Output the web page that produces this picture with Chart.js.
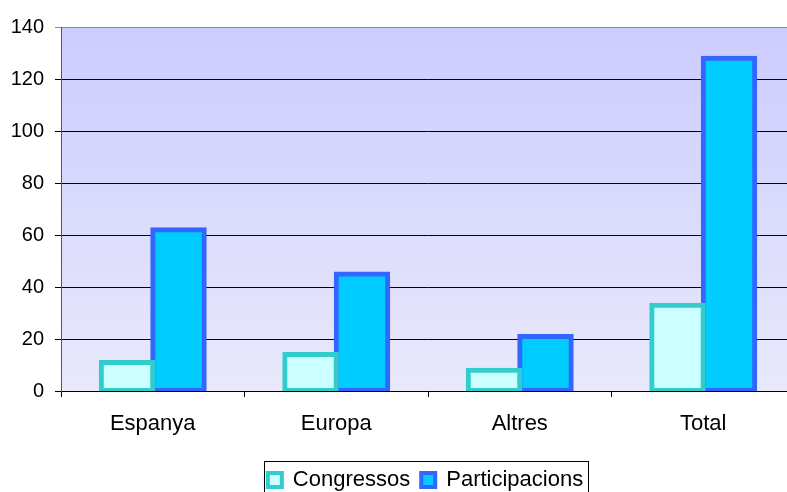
<!DOCTYPE html>
<html><head><meta charset="utf-8">
<script src="https://cdn.jsdelivr.net/npm/chart.js@4/dist/chart.umd.min.js"></script>
<style>html,body{margin:0;padding:0;background:#fff;overflow:hidden}#wrap{width:787px;height:492px;overflow:hidden}</style>
</head><body><div id="wrap"><canvas id="c" width="795" height="492"></canvas></div>
<script>
const categories = ["Espanya", "Europa", "Altres", "Total"];
const congressos = [11, 14, 8, 33];
const participacions = [62, 45, 21, 128];
const seriesNames = ["Congressos", "Participacions"];
const yTicks = [0, 20, 40, 60, 80, 100, 120, 140];

const FONT = "'Liberation Sans', Arial, sans-serif";

const bgPlugin = {
  id: 'bg',
  afterLayout(chart) {
    const lg = chart.legend;
    if (lg) { lg.left += 28; lg.right += 28; }
  },
  beforeDraw(chart) {
    const {ctx, chartArea: a} = chart;
    const g = ctx.createLinearGradient(0, a.top, 0, a.bottom);
    g.addColorStop(0, '#ccccff');
    g.addColorStop(1, '#e9e9fb');
    ctx.save();
    ctx.fillStyle = g;
    ctx.fillRect(a.left, a.top, a.right - a.left, a.bottom - a.top);
    ctx.restore();
  },
  afterDraw(chart) {
    const lg = chart.legend;
    if (!lg || !lg.legendHitBoxes || !lg.legendHitBoxes.length) return;
    const hb = lg.legendHitBoxes;
    const x0 = hb[0].left - 4;
    const x1 = hb[hb.length - 1].left + hb[hb.length - 1].width + 5;
    const ctx = chart.ctx;
    ctx.save();
    ctx.strokeStyle = '#000';
    ctx.lineWidth = 1;
    ctx.strokeRect(Math.round(x0) + 0.5, 461.5, Math.round(x1 - x0), 40);
    ctx.restore();
  }
};

new Chart(document.getElementById('c'), {
  type: 'bar',
  data: {
    labels: categories,
    datasets: [
      { label: seriesNames[0], data: congressos, backgroundColor: '#ccffff', borderColor: '#33cccc', borderWidth: 5, borderSkipped: false, inflateAmount: 2.5 },
      { label: seriesNames[1], data: participacions, backgroundColor: '#00ccff', borderColor: '#3366ff', borderWidth: 5, borderSkipped: false, inflateAmount: 2.5 }
    ]
  },
  options: {
    responsive: false,
    animation: false,
    layout: { padding: { top: 27, left: 0, right: 0, bottom: -9 } },
    datasets: { bar: { categoryPercentage: 0.561, barPercentage: 1.0 } },
    plugins: {
      tooltip: { enabled: false },
      legend: {
        position: 'bottom',
        labels: {
          font: { family: FONT, size: 22 },
          color: '#000',
          boxWidth: 14,
          boxHeight: 14,
          padding: 11,
          generateLabels(chart) {
            return chart.data.datasets.map((d, i) => ({
              text: d.label,
              fillStyle: d.backgroundColor,
              strokeStyle: d.borderColor,
              lineWidth: 4,
              hidden: false,
              datasetIndex: i
            }));
          }
        }
      }
    },
    scales: {
      x: {
        grid: { drawOnChartArea: false, drawTicks: true, tickLength: 6, color: '#000', offset: true },
        border: { display: true, color: '#000', width: 1 },
        ticks: { font: { family: FONT, size: 22 }, color: '#000', padding: 14 },
        afterFit(s) { s.height = 67; }
      },
      y: {
        min: 0, max: 140,
        afterBuildTicks(s) { s.ticks = yTicks.map(v => ({ value: v })); },
        grid: { color: (c) => c.tick && c.tick.value === 140 ? '#888' : '#000', tickLength: 6, lineWidth: 1 },
        border: { display: true, color: '#555', width: 1 },
        ticks: { font: { family: FONT, size: 20 }, color: '#000', padding: 11 },
        afterFit(s) { s.width = 61; }
      }
    }
  },
  plugins: [bgPlugin]
});
</script></body></html>
